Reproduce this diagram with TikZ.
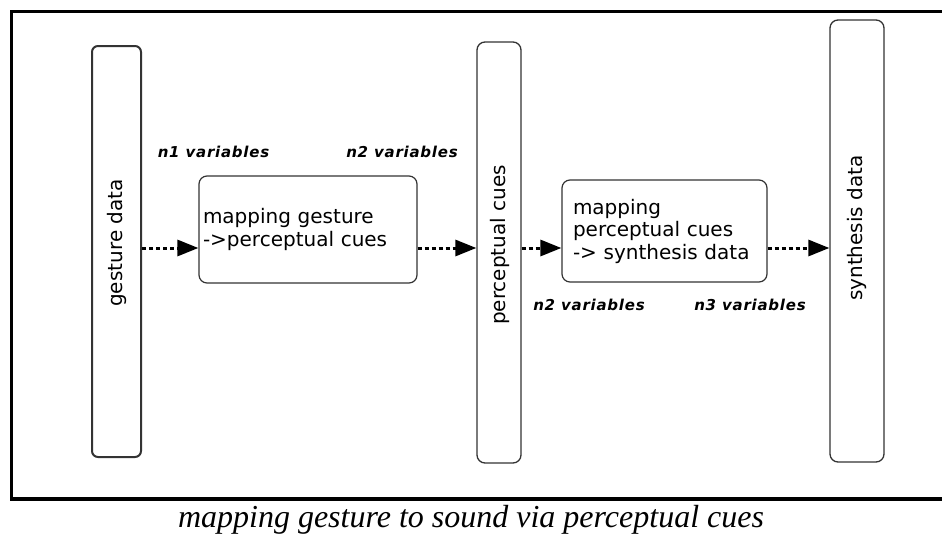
\documentclass[tikz,border=0pt]{standalone}
\usepackage{fontspec}
\usetikzlibrary{arrows.meta}
\newfontfamily\boxfont{DejaVu Sans}
\newfontfamily\varfont[LetterSpace = 5]{DejaVu Sans}
\newfontfamily\capfont{Liberation Serif}

\tikzset{
	bar/.style = {draw = black!80, line width = 1.3pt, rounded corners = 8pt, inner sep = 0pt},
	mapbox/.style = {draw = black!80, line width = 1.2pt, rounded corners = 8pt, inner ysep = 0pt, align = left, font = \boxfont\fontsize{20}{22.5}\selectfont},
	barlabel/.style = {rotate = 90, inner sep = 0pt, font = \boxfont\fontsize{20}{24}\selectfont},
	varlabel/.style = {inner sep = 0pt, font = \varfont\bfseries\itshape\fontsize{15}{17}\selectfont},
	flow/.style = {line width = 3pt, dash pattern = on 4pt off 3pt, -{Triangle[length = 21pt, width = 16pt]}}
}

\begin{document}
\begin{tikzpicture}[x = 1pt, y = -1pt]
	\useasboundingbox (0, 0) rectangle (942, 533);
	\draw[line width = 3.5pt] (946, 11.5) -- (11.5, 11.5) -- (11.5, 499) -- (946, 499);
	
	\node[bar, line width = 2pt, rounded corners = 6pt, minimum width = 49pt, minimum height = 411pt] (gesture) at (116.5, 251.5) {};
	\node[bar, minimum width = 44pt, minimum height = 421pt] (cues) at (499, 252.5) {};
	\node[bar, minimum width = 54pt, minimum height = 442pt] (synth) at (857, 241) {};
	
	\node[barlabel] (gesturetext) at (116.5, 243) {gesture data};
	\node[barlabel] (cuestext) at (499.5, 245) {perceptual cues};
	\node[barlabel] (synthtext) at (857, 228) {synthesis data};
	
	\node[mapbox, inner xsep = 4pt, text width = 210pt, minimum height = 107pt] (map1) at (308, 229.5) {mapping gesture\\->perceptual cues};
	\node[mapbox, inner xsep = 11pt, text width = 183pt, minimum height = 102pt] (map2) at (664.5, 231) {mapping\\perceptual cues\\-> synthesis data};
	
	\node[varlabel] (nin) at (213.5, 152) {n1 variables};
	\node[varlabel] (nmid) at (402, 152) {n2 variables};
	\node[varlabel] (nmidlow) at (589, 305) {n2 variables};
	\node[varlabel] (nout) at (750, 305) {n3 variables};
	
	\coordinate (flowline) at (0, 248);
	\draw[flow] (gesture.east |- flowline) -- (map1.west |- flowline);
	\draw[flow] (map1.east |- flowline) -- (cues.west |- flowline);
	\draw[flow] (cues.east |- flowline) -- (map2.west |- flowline);
	\draw[flow] (map2.east |- flowline) -- (synth.west |- flowline);
	
	\node[anchor = base, inner sep = 0pt, font = \capfont\itshape\fontsize{32}{36}\selectfont] (caption) at (471, 527) {mapping gesture to sound via perceptual cues};
\end{tikzpicture}
\end{document}
